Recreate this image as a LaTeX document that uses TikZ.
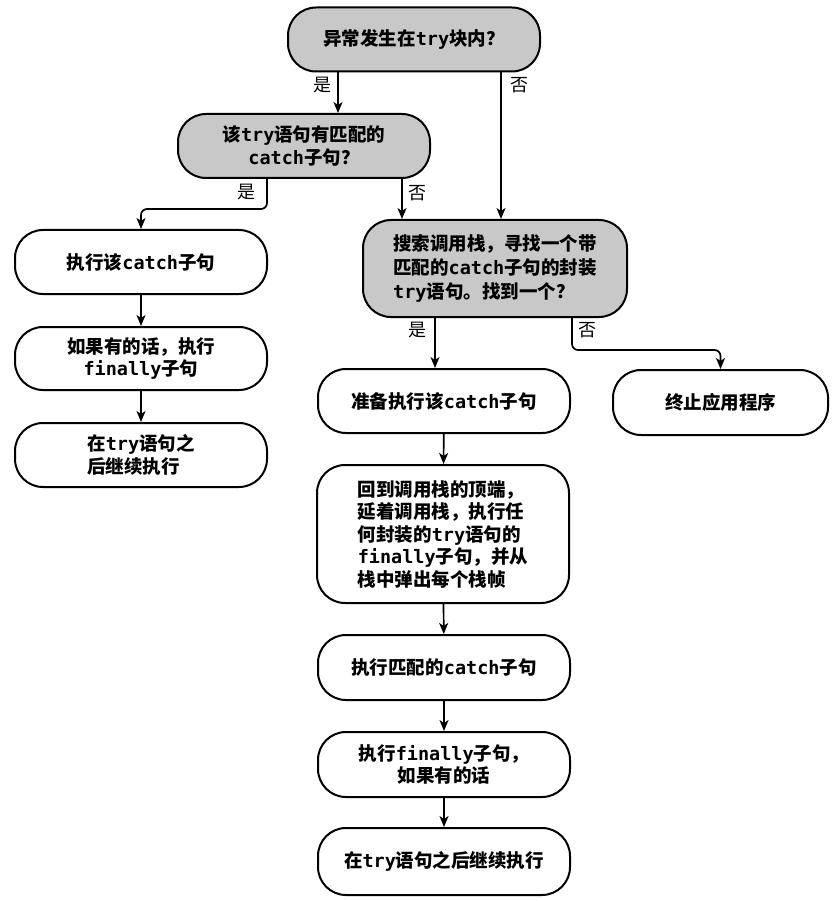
\documentclass[tikz,border=0pt]{standalone}
\usepackage{fontspec}
\setmainfont{Noto Sans CJK SC}
\setmonofont{DejaVu Sans Mono}
\usetikzlibrary{arrows.meta}
\definecolor{qgray}{RGB}{200,200,200}
\newcommand\kw[1]{\texttt{#1}}
\begin{document}
\begin{tikzpicture}[x=1pt,y=-1pt,
  box/.style={draw=black, line width=2pt, rounded corners=28pt, minimum width=252pt,
    minimum height=64pt, inner sep=0pt, align=center,
    font=\fontsize{18.5}{22.5}\selectfont\bfseries, fill=white},
  qbox/.style={box, fill=qgray},
  arr/.style={draw=black, line width=1.7pt, -{Stealth[length=11pt,width=9pt,inset=3pt]}},
  lbl/.style={font=\fontsize{18}{20}\selectfont, inner sep=0pt}]
\useasboundingbox[fill=white] (0,0) rectangle (838,901);

% nodes
\node[qbox] (q1) at (414,39.5) {异常发生在\kw{try}块内？};
\node[qbox] (q2) at (304,146) {该\kw{try}语句有匹配的\\\kw{catch}子句？};
\node[box] (c1) at (141,262) {执行该\kw{catch}子句};
\node[box, minimum height=63pt] (c2) at (141,358.5) {如果有的话，执行\\\kw{finally}子句};
\node[box, align=left] (c3) at (141,455) {在\kw{try}语句之\\后继续执行};
\node[qbox, minimum width=264pt, minimum height=97pt, align=left,
  font=\fontsize{18.5}{24}\selectfont\bfseries] (s) at (495,268.5)
  {搜索调用栈，寻找一个带\\匹配的\kw{catch}子句的封装\\\kw{try}语句。找到一个？};
\node[box] (p) at (444,401) {准备执行该\kw{catch}子句};
\node[box, minimum width=215pt, minimum height=65pt] (t) at (720.5,402.5) {终止应用程序};
\node[box, minimum height=138pt, align=left] (r) at (443,534)
  {回到调用栈的顶端，\\延着调用栈，执行任\\何封装的\kw{try}语句的\\\kw{finally}子句，并从\\栈中弹出每个栈帧};
\node[box, minimum height=65pt] (m) at (444,667.5) {执行匹配的\kw{catch}子句};
\node[box, minimum height=65pt] (f) at (444,764.5) {执行\kw{finally}子句，\\如果有的话};
\node[box, minimum height=67pt] (e) at (444,861.5) {在\kw{try}语句之后继续执行};

% labels
\node[lbl] (l1y) at (322,85) {是};
\node[lbl] (l1n) at (519,85) {否};
\node[lbl] (l2y) at (246,192) {是};
\node[lbl] (l2n) at (417,193) {否};
\node[lbl] (l3y) at (417,330) {是};
\node[lbl] (l3n) at (587,330) {否};

% connectors
\draw[arr] ([xshift=-76pt]q1.south) -- ([xshift=-76pt]q1.south |- q2.north);
\draw[arr] ([xshift=87pt]q1.south) -- ([xshift=87pt]q1.south |- s.north);
\draw[arr, rounded corners=6pt] ([xshift=-37pt]q2.south) -- ++(0,30) -| (c1.north);
\draw[arr] ([xshift=98pt]q2.south) -- ([xshift=98pt]q2.south |- s.north);
\draw[arr] (c1) -- (c2);
\draw[arr] (c2) -- (c3);
\draw[arr] ([xshift=-60pt]s.south) -- ([xshift=-60pt]s.south |- p.north);
\draw[arr, rounded corners=6pt] ([xshift=77pt]s.south) -- ++(0,32) -| (t.north);
\draw[arr] (p) -- (r);
\draw[arr] (r) -- (m);
\draw[arr] (m) -- (f);
\draw[arr] (f) -- (e);
\end{tikzpicture}
\end{document}
